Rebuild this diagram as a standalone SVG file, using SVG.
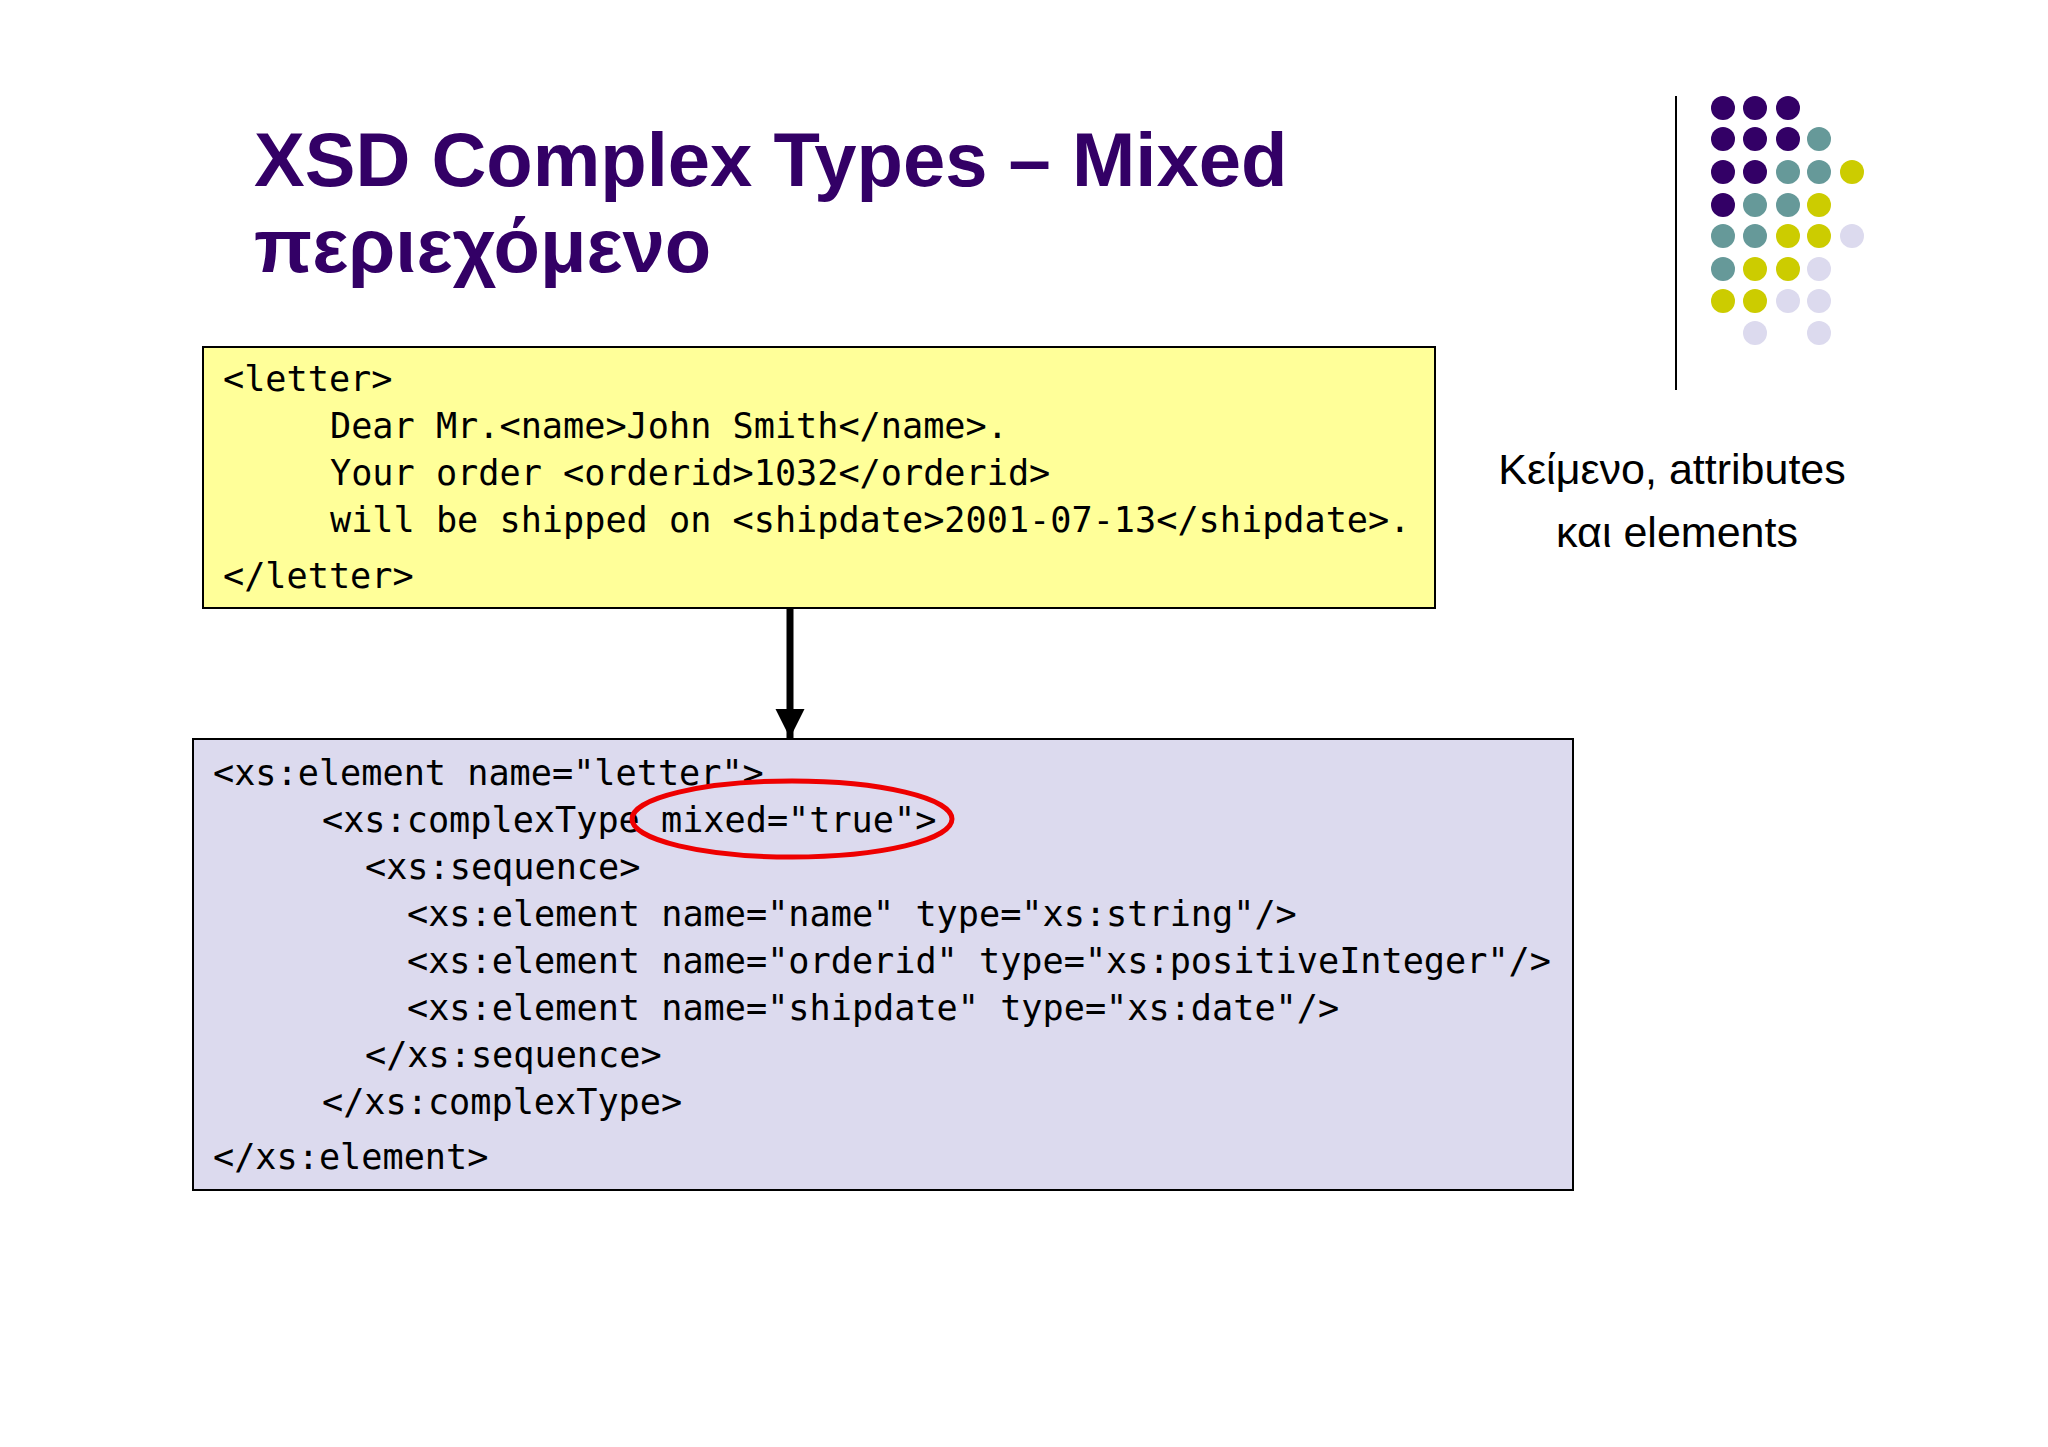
<svg xmlns="http://www.w3.org/2000/svg" width="2048" height="1447" viewBox="0 0 2048 1447">
<style>
.t{font-family:"Liberation Sans",Arial,sans-serif;font-weight:bold;font-size:76px;fill:#330066}
.s{font-family:"Liberation Sans",Arial,sans-serif;font-size:43px;fill:#000;text-anchor:middle}
.c{font-family:"DejaVu Sans Mono","Liberation Mono",monospace;font-size:35.2px;fill:#000;white-space:pre}
.P{fill:#330066}.T{fill:#669999}.Y{fill:#CCCC00}.L{fill:#DCDAEE}
</style>
<defs><marker id="ah" markerWidth="4.2" markerHeight="4.2" refX="4.2" refY="2.1" orient="auto" markerUnits="strokeWidth"><path d="M0,0L4.2,2.1L0,4.2z" fill="#000"/></marker></defs>
<rect width="2048" height="1447" fill="#fff"/>
<g id="title"><text class="t" x="254" y="186">XSD Complex Types – Mixed</text><text class="t" x="254" y="272">περιεχόμενο</text></g>
<g id="deco">
<line x1="1676" y1="96" x2="1676" y2="390" stroke="#000" stroke-width="2"/>
<g transform="translate(-7,0)">
<circle class="P" cx="1730" cy="108" r="12"/><circle class="P" cx="1762" cy="108" r="12"/><circle class="P" cx="1795" cy="108" r="12"/>
<circle class="P" cx="1730" cy="139" r="12"/><circle class="P" cx="1762" cy="139" r="12"/><circle class="P" cx="1795" cy="139" r="12"/><circle class="T" cx="1826" cy="139" r="12"/>
<circle class="P" cx="1730" cy="172" r="12"/><circle class="P" cx="1762" cy="172" r="12"/><circle class="T" cx="1795" cy="172" r="12"/><circle class="T" cx="1826" cy="172" r="12"/><circle class="Y" cx="1859" cy="172" r="12"/>
<circle class="P" cx="1730" cy="205" r="12"/><circle class="T" cx="1762" cy="205" r="12"/><circle class="T" cx="1795" cy="205" r="12"/><circle class="Y" cx="1826" cy="205" r="12"/>
<circle class="T" cx="1730" cy="236" r="12"/><circle class="T" cx="1762" cy="236" r="12"/><circle class="Y" cx="1795" cy="236" r="12"/><circle class="Y" cx="1826" cy="236" r="12"/><circle class="L" cx="1859" cy="236" r="12"/>
<circle class="T" cx="1730" cy="269" r="12"/><circle class="Y" cx="1762" cy="269" r="12"/><circle class="Y" cx="1795" cy="269" r="12"/><circle class="L" cx="1826" cy="269" r="12"/>
<circle class="Y" cx="1730" cy="301" r="12"/><circle class="Y" cx="1762" cy="301" r="12"/><circle class="L" cx="1795" cy="301" r="12"/><circle class="L" cx="1826" cy="301" r="12"/>
<circle class="L" cx="1762" cy="333" r="12"/><circle class="L" cx="1826" cy="333" r="12"/>
</g></g>
<g id="note"><text class="s" x="1672" y="484">Κείμενο, attributes</text><text class="s" x="1677" y="547">και elements</text></g>
<g id="xml">
<rect x="203" y="347" width="1232" height="261" fill="#FFFF99" stroke="#000" stroke-width="2"/>
<text class="c" x="223" y="391">&lt;letter&gt;</text>
<text class="c" x="330" y="438">Dear Mr.&lt;name&gt;John Smith&lt;/name&gt;.</text>
<text class="c" x="330" y="485">Your order &lt;orderid&gt;1032&lt;/orderid&gt;</text>
<text class="c" x="330" y="532">will be shipped on &lt;shipdate&gt;2001-07-13&lt;/shipdate&gt;.</text>
<text class="c" x="223" y="588">&lt;/letter&gt;</text>
</g>
<g id="xsd">
<rect x="193" y="739" width="1380" height="451" fill="#DCDAEE" stroke="#000" stroke-width="2"/>
<text class="c" x="213" y="785">&lt;xs:element name="letter"&gt;</text>
<text class="c" x="322" y="832">&lt;xs:complexType mixed="true"&gt;</text>
<text class="c" x="365" y="879">&lt;xs:sequence&gt;</text>
<text class="c" x="407" y="926">&lt;xs:element name="name" type="xs:string"/&gt;</text>
<text class="c" x="407" y="973">&lt;xs:element name="orderid" type="xs:positiveInteger"/&gt;</text>
<text class="c" x="407" y="1020">&lt;xs:element name="shipdate" type="xs:date"/&gt;</text>
<text class="c" x="365" y="1067">&lt;/xs:sequence&gt;</text>
<text class="c" x="322" y="1114">&lt;/xs:complexType&gt;</text>
<text class="c" x="213" y="1169">&lt;/xs:element&gt;</text>
<ellipse cx="792" cy="819" rx="160" ry="38" fill="none" stroke="#EE0000" stroke-width="5"/>
</g>
<g id="connectors"><line x1="790" y1="608" x2="790" y2="738" stroke="#000" stroke-width="7" marker-end="url(#ah)"/></g>
</svg>
